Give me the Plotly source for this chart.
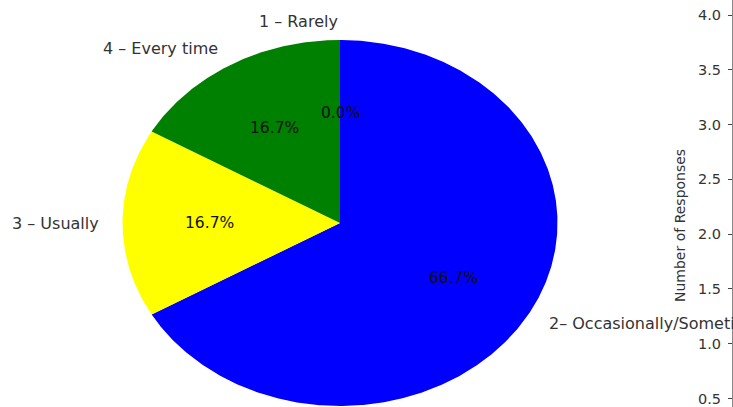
import numpy as np
import plotly.graph_objects as go

# ---- data ----
labels = ["1 – Rarely", "2– Occasionally/Sometimes", "3 – Usually", "4 – Every time"]
counts = [0, 4, 1, 1]
colors = ["#ff0000", "#0000ff", "#ffff00", "#008000"]
bar_axis_ticks = [0.5, 1.0, 1.5, 2.0, 2.5, 3.0, 3.5, 4.0]
bar_axis_title = "Number of Responses"

# ---- layout geometry (pixels) ----
W, H = 733, 407
cx, cy = 340, 223
rx, ry = 217.5, 183.0
start_angle = 90.0

FONT = "DejaVu Sans"

fig = go.Figure()

total = float(sum(counts))
theta = start_angle
annotations = []
for lab, val, col in zip(labels, counts, colors):
    frac = val / total
    t1 = theta
    t2 = theta - 360.0 * frac  # clockwise
    tm = np.deg2rad(0.5 * (t1 + t2))
    if val > 0:
        n = max(3, int(abs(t1 - t2) * 2))
        ang = np.deg2rad(np.linspace(t1, t2, n))
        xs = np.concatenate([[0.0], np.cos(ang), [0.0]])
        ys = np.concatenate([[0.0], np.sin(ang), [0.0]])
        fig.add_trace(go.Scatter(x=xs, y=ys, mode="lines", fill="toself",
                                 fillcolor=col, line=dict(width=0, color=col),
                                 hoverinfo="skip", showlegend=False))
    # outer label
    lx, ly = 1.1 * np.cos(tm), 1.1 * np.sin(tm)
    annotations.append(dict(x=lx, y=ly, xref="x", yref="y", text=lab, showarrow=False,
                            xanchor="left" if np.cos(tm) > 0.01 else "right",
                            yanchor="middle",
                            font=dict(family=FONT, size=16, color="#333333")))
    # percent label
    px_, py_ = 0.6 * np.cos(tm), 0.6 * np.sin(tm)
    annotations.append(dict(x=px_, y=py_, xref="x", yref="y", text=f"{100*frac:.1f}%",
                            showarrow=False, xanchor="center", yanchor="middle",
                            font=dict(family=FONT, size=15.5, color="#111111")))
    theta = t2

# title of the (cut-off) bar chart axis on the right
annotations.append(dict(x=680 / W, y=1 - 226 / H, xref="paper", yref="paper",
                        text=bar_axis_title, textangle=-90, showarrow=False,
                        xanchor="center", yanchor="middle",
                        font=dict(family=FONT, size=14, color="#333333")))

# dummy trace so the second axis exists
fig.add_trace(go.Scatter(x=[], y=[], yaxis="y2", showlegend=False, hoverinfo="skip"))

fig.update_layout(
    width=W, height=H,
    margin=dict(l=0, r=0, t=0, b=0),
    paper_bgcolor="white", plot_bgcolor="white",
    xaxis=dict(range=[-cx / rx, (W - cx) / rx], visible=False, fixedrange=True),
    yaxis=dict(range=[-(H - cy) / ry, cy / ry], visible=False, fixedrange=True),
    yaxis2=dict(overlaying="y", anchor="free", position=732 / W, side="left",
                range=[0.4224, 4.137], tickvals=bar_axis_ticks,
                ticktext=[f"{v:.1f}" for v in bar_axis_ticks],
                ticks="outside", ticklen=4, tickcolor="#444444", tickwidth=1,
                showline=True, linecolor="#888888", linewidth=1,
                showgrid=False, zeroline=False, ticklabelstandoff=4,
                fixedrange=True,
                tickfont=dict(family=FONT, size=14.5, color="#333333")),
    annotations=annotations,
    showlegend=False,
)

fig.write_html("out.html", config={"displayModeBar": False},
               post_script="document.body.style.margin='0';document.body.style.overflow='hidden';")
